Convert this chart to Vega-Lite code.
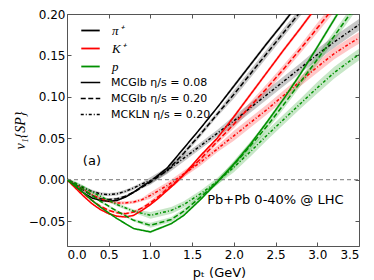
{
  "$schema": "https://vega.github.io/schema/vega-lite/v6.json",
  "width": 292,
  "height": 232,
  "autosize": {"type": "none"},
  "padding": {"left": 67, "top": 14, "right": 15, "bottom": 34},
  "config": {
    "view": {"stroke": "#555", "strokeWidth": 1},
    "font": "DejaVu Sans",
    "axis": {"grid": false, "domain": false, "labelColor": "#000", "tickColor": "#555", "labelFontSize": 12, "labelFont": "DejaVu Sans", "titleFontWeight": "normal", "titleColor": "#000"}
  },
  "datasets": {
    "curves": [
      {"s":"π⁺","m":"MCGlb η/s = 0.08","x":0,"y":0,"e":0.001},
      {"s":"π⁺","m":"MCGlb η/s = 0.08","x":0.1,"y":-0.008,"e":0.001},
      {"s":"π⁺","m":"MCGlb η/s = 0.08","x":0.2,"y":-0.016,"e":0.001},
      {"s":"π⁺","m":"MCGlb η/s = 0.08","x":0.3,"y":-0.022,"e":0.001},
      {"s":"π⁺","m":"MCGlb η/s = 0.08","x":0.4,"y":-0.025,"e":0.001},
      {"s":"π⁺","m":"MCGlb η/s = 0.08","x":0.5,"y":-0.026,"e":0.001},
      {"s":"π⁺","m":"MCGlb η/s = 0.08","x":0.6,"y":-0.025,"e":0.001},
      {"s":"π⁺","m":"MCGlb η/s = 0.08","x":0.7,"y":-0.021,"e":0.001},
      {"s":"π⁺","m":"MCGlb η/s = 0.08","x":0.8,"y":-0.015,"e":0.001},
      {"s":"π⁺","m":"MCGlb η/s = 0.08","x":0.9,"y":-0.008,"e":0.001},
      {"s":"π⁺","m":"MCGlb η/s = 0.08","x":1.0,"y":-0.002,"e":0.0015},
      {"s":"π⁺","m":"MCGlb η/s = 0.08","x":1.1,"y":0.006,"e":0.0015},
      {"s":"π⁺","m":"MCGlb η/s = 0.08","x":1.2,"y":0.014,"e":0.0015},
      {"s":"π⁺","m":"MCGlb η/s = 0.08","x":1.4,"y":0.038,"e":0.0015},
      {"s":"π⁺","m":"MCGlb η/s = 0.08","x":1.6,"y":0.062,"e":0.0015},
      {"s":"π⁺","m":"MCGlb η/s = 0.08","x":1.8,"y":0.087,"e":0.0015},
      {"s":"π⁺","m":"MCGlb η/s = 0.08","x":2.0,"y":0.113,"e":0.0025},
      {"s":"π⁺","m":"MCGlb η/s = 0.08","x":2.2,"y":0.139,"e":0.0025},
      {"s":"π⁺","m":"MCGlb η/s = 0.08","x":2.4,"y":0.165,"e":0.0025},
      {"s":"π⁺","m":"MCGlb η/s = 0.08","x":2.6,"y":0.19,"e":0.0025},
      {"s":"π⁺","m":"MCGlb η/s = 0.08","x":2.8,"y":0.216,"e":0.0025},

      {"s":"π⁺","m":"MCGlb η/s = 0.20","x":0,"y":0,"e":0.0015},
      {"s":"π⁺","m":"MCGlb η/s = 0.20","x":0.1,"y":-0.006,"e":0.0015},
      {"s":"π⁺","m":"MCGlb η/s = 0.20","x":0.2,"y":-0.013,"e":0.0015},
      {"s":"π⁺","m":"MCGlb η/s = 0.20","x":0.3,"y":-0.019,"e":0.0015},
      {"s":"π⁺","m":"MCGlb η/s = 0.20","x":0.4,"y":-0.023,"e":0.0015},
      {"s":"π⁺","m":"MCGlb η/s = 0.20","x":0.5,"y":-0.024,"e":0.0015},
      {"s":"π⁺","m":"MCGlb η/s = 0.20","x":0.6,"y":-0.023,"e":0.0015},
      {"s":"π⁺","m":"MCGlb η/s = 0.20","x":0.7,"y":-0.02,"e":0.0015},
      {"s":"π⁺","m":"MCGlb η/s = 0.20","x":0.8,"y":-0.015,"e":0.0015},
      {"s":"π⁺","m":"MCGlb η/s = 0.20","x":0.9,"y":-0.009,"e":0.0015},
      {"s":"π⁺","m":"MCGlb η/s = 0.20","x":1.0,"y":-0.003,"e":0.003},
      {"s":"π⁺","m":"MCGlb η/s = 0.20","x":1.1,"y":0.004,"e":0.003},
      {"s":"π⁺","m":"MCGlb η/s = 0.20","x":1.2,"y":0.011,"e":0.003},
      {"s":"π⁺","m":"MCGlb η/s = 0.20","x":1.4,"y":0.032,"e":0.003},
      {"s":"π⁺","m":"MCGlb η/s = 0.20","x":1.6,"y":0.055,"e":0.003},
      {"s":"π⁺","m":"MCGlb η/s = 0.20","x":1.8,"y":0.079,"e":0.003},
      {"s":"π⁺","m":"MCGlb η/s = 0.20","x":2.0,"y":0.103,"e":0.005},
      {"s":"π⁺","m":"MCGlb η/s = 0.20","x":2.2,"y":0.128,"e":0.005},
      {"s":"π⁺","m":"MCGlb η/s = 0.20","x":2.4,"y":0.153,"e":0.005},
      {"s":"π⁺","m":"MCGlb η/s = 0.20","x":2.6,"y":0.178,"e":0.005},
      {"s":"π⁺","m":"MCGlb η/s = 0.20","x":2.8,"y":0.203,"e":0.005},
      {"s":"π⁺","m":"MCGlb η/s = 0.20","x":3.0,"y":0.228,"e":0.006},

      {"s":"π⁺","m":"MCKLN η/s = 0.20","x":0,"y":0,"e":0.002},
      {"s":"π⁺","m":"MCKLN η/s = 0.20","x":0.1,"y":-0.005,"e":0.002},
      {"s":"π⁺","m":"MCKLN η/s = 0.20","x":0.2,"y":-0.01,"e":0.002},
      {"s":"π⁺","m":"MCKLN η/s = 0.20","x":0.3,"y":-0.014,"e":0.002},
      {"s":"π⁺","m":"MCKLN η/s = 0.20","x":0.4,"y":-0.017,"e":0.002},
      {"s":"π⁺","m":"MCKLN η/s = 0.20","x":0.5,"y":-0.018,"e":0.002},
      {"s":"π⁺","m":"MCKLN η/s = 0.20","x":0.6,"y":-0.017,"e":0.002},
      {"s":"π⁺","m":"MCKLN η/s = 0.20","x":0.7,"y":-0.014,"e":0.002},
      {"s":"π⁺","m":"MCKLN η/s = 0.20","x":0.8,"y":-0.01,"e":0.002},
      {"s":"π⁺","m":"MCKLN η/s = 0.20","x":0.9,"y":-0.005,"e":0.002},
      {"s":"π⁺","m":"MCKLN η/s = 0.20","x":1.0,"y":-0.001,"e":0.004},
      {"s":"π⁺","m":"MCKLN η/s = 0.20","x":1.1,"y":0.005,"e":0.004},
      {"s":"π⁺","m":"MCKLN η/s = 0.20","x":1.2,"y":0.011,"e":0.004},
      {"s":"π⁺","m":"MCKLN η/s = 0.20","x":1.4,"y":0.026,"e":0.004},
      {"s":"π⁺","m":"MCKLN η/s = 0.20","x":1.6,"y":0.041,"e":0.004},
      {"s":"π⁺","m":"MCKLN η/s = 0.20","x":1.8,"y":0.056,"e":0.004},
      {"s":"π⁺","m":"MCKLN η/s = 0.20","x":2.0,"y":0.071,"e":0.006},
      {"s":"π⁺","m":"MCKLN η/s = 0.20","x":2.2,"y":0.087,"e":0.006},
      {"s":"π⁺","m":"MCKLN η/s = 0.20","x":2.4,"y":0.103,"e":0.006},
      {"s":"π⁺","m":"MCKLN η/s = 0.20","x":2.6,"y":0.119,"e":0.006},
      {"s":"π⁺","m":"MCKLN η/s = 0.20","x":2.8,"y":0.135,"e":0.006},
      {"s":"π⁺","m":"MCKLN η/s = 0.20","x":3.0,"y":0.151,"e":0.007},
      {"s":"π⁺","m":"MCKLN η/s = 0.20","x":3.2,"y":0.166,"e":0.007},
      {"s":"π⁺","m":"MCKLN η/s = 0.20","x":3.4,"y":0.18,"e":0.007},
      {"s":"π⁺","m":"MCKLN η/s = 0.20","x":3.5,"y":0.187,"e":0.007},

      {"s":"K⁺","m":"MCGlb η/s = 0.08","x":0,"y":0,"e":0.001},
      {"s":"K⁺","m":"MCGlb η/s = 0.08","x":0.1,"y":-0.01,"e":0.001},
      {"s":"K⁺","m":"MCGlb η/s = 0.08","x":0.2,"y":-0.02,"e":0.001},
      {"s":"K⁺","m":"MCGlb η/s = 0.08","x":0.3,"y":-0.029,"e":0.001},
      {"s":"K⁺","m":"MCGlb η/s = 0.08","x":0.4,"y":-0.036,"e":0.001},
      {"s":"K⁺","m":"MCGlb η/s = 0.08","x":0.5,"y":-0.041,"e":0.001},
      {"s":"K⁺","m":"MCGlb η/s = 0.08","x":0.6,"y":-0.044,"e":0.001},
      {"s":"K⁺","m":"MCGlb η/s = 0.08","x":0.7,"y":-0.045,"e":0.001},
      {"s":"K⁺","m":"MCGlb η/s = 0.08","x":0.8,"y":-0.043,"e":0.001},
      {"s":"K⁺","m":"MCGlb η/s = 0.08","x":0.9,"y":-0.037,"e":0.001},
      {"s":"K⁺","m":"MCGlb η/s = 0.08","x":1.0,"y":-0.03,"e":0.0015},
      {"s":"K⁺","m":"MCGlb η/s = 0.08","x":1.1,"y":-0.022,"e":0.0015},
      {"s":"K⁺","m":"MCGlb η/s = 0.08","x":1.2,"y":-0.013,"e":0.0015},
      {"s":"K⁺","m":"MCGlb η/s = 0.08","x":1.3,"y":-0.004,"e":0.0015},
      {"s":"K⁺","m":"MCGlb η/s = 0.08","x":1.4,"y":0.006,"e":0.0015},
      {"s":"K⁺","m":"MCGlb η/s = 0.08","x":1.6,"y":0.029,"e":0.0015},
      {"s":"K⁺","m":"MCGlb η/s = 0.08","x":1.8,"y":0.05,"e":0.0015},
      {"s":"K⁺","m":"MCGlb η/s = 0.08","x":2.0,"y":0.076,"e":0.0025},
      {"s":"K⁺","m":"MCGlb η/s = 0.08","x":2.2,"y":0.103,"e":0.0025},
      {"s":"K⁺","m":"MCGlb η/s = 0.08","x":2.4,"y":0.13,"e":0.0025},
      {"s":"K⁺","m":"MCGlb η/s = 0.08","x":2.6,"y":0.157,"e":0.0025},
      {"s":"K⁺","m":"MCGlb η/s = 0.08","x":2.8,"y":0.183,"e":0.0025},
      {"s":"K⁺","m":"MCGlb η/s = 0.08","x":3.0,"y":0.21,"e":0.003},

      {"s":"K⁺","m":"MCGlb η/s = 0.20","x":0,"y":0,"e":0.0015},
      {"s":"K⁺","m":"MCGlb η/s = 0.20","x":0.1,"y":-0.008,"e":0.0015},
      {"s":"K⁺","m":"MCGlb η/s = 0.20","x":0.2,"y":-0.017,"e":0.0015},
      {"s":"K⁺","m":"MCGlb η/s = 0.20","x":0.3,"y":-0.025,"e":0.0015},
      {"s":"K⁺","m":"MCGlb η/s = 0.20","x":0.4,"y":-0.032,"e":0.0015},
      {"s":"K⁺","m":"MCGlb η/s = 0.20","x":0.5,"y":-0.037,"e":0.0015},
      {"s":"K⁺","m":"MCGlb η/s = 0.20","x":0.6,"y":-0.04,"e":0.0015},
      {"s":"K⁺","m":"MCGlb η/s = 0.20","x":0.7,"y":-0.041,"e":0.0015},
      {"s":"K⁺","m":"MCGlb η/s = 0.20","x":0.8,"y":-0.039,"e":0.0015},
      {"s":"K⁺","m":"MCGlb η/s = 0.20","x":0.9,"y":-0.034,"e":0.0015},
      {"s":"K⁺","m":"MCGlb η/s = 0.20","x":1.0,"y":-0.028,"e":0.003},
      {"s":"K⁺","m":"MCGlb η/s = 0.20","x":1.1,"y":-0.02,"e":0.003},
      {"s":"K⁺","m":"MCGlb η/s = 0.20","x":1.2,"y":-0.011,"e":0.003},
      {"s":"K⁺","m":"MCGlb η/s = 0.20","x":1.3,"y":-0.003,"e":0.003},
      {"s":"K⁺","m":"MCGlb η/s = 0.20","x":1.4,"y":0.006,"e":0.003},
      {"s":"K⁺","m":"MCGlb η/s = 0.20","x":1.6,"y":0.025,"e":0.003},
      {"s":"K⁺","m":"MCGlb η/s = 0.20","x":1.8,"y":0.046,"e":0.003},
      {"s":"K⁺","m":"MCGlb η/s = 0.20","x":2.0,"y":0.067,"e":0.005},
      {"s":"K⁺","m":"MCGlb η/s = 0.20","x":2.2,"y":0.089,"e":0.005},
      {"s":"K⁺","m":"MCGlb η/s = 0.20","x":2.4,"y":0.111,"e":0.005},
      {"s":"K⁺","m":"MCGlb η/s = 0.20","x":2.6,"y":0.134,"e":0.005},
      {"s":"K⁺","m":"MCGlb η/s = 0.20","x":2.8,"y":0.158,"e":0.005},
      {"s":"K⁺","m":"MCGlb η/s = 0.20","x":3.0,"y":0.183,"e":0.006},
      {"s":"K⁺","m":"MCGlb η/s = 0.20","x":3.2,"y":0.208,"e":0.006},

      {"s":"K⁺","m":"MCKLN η/s = 0.20","x":0,"y":0,"e":0.002},
      {"s":"K⁺","m":"MCKLN η/s = 0.20","x":0.1,"y":-0.006,"e":0.002},
      {"s":"K⁺","m":"MCKLN η/s = 0.20","x":0.2,"y":-0.012,"e":0.002},
      {"s":"K⁺","m":"MCKLN η/s = 0.20","x":0.3,"y":-0.018,"e":0.002},
      {"s":"K⁺","m":"MCKLN η/s = 0.20","x":0.4,"y":-0.023,"e":0.002},
      {"s":"K⁺","m":"MCKLN η/s = 0.20","x":0.5,"y":-0.026,"e":0.002},
      {"s":"K⁺","m":"MCKLN η/s = 0.20","x":0.6,"y":-0.028,"e":0.002},
      {"s":"K⁺","m":"MCKLN η/s = 0.20","x":0.7,"y":-0.028,"e":0.002},
      {"s":"K⁺","m":"MCKLN η/s = 0.20","x":0.8,"y":-0.027,"e":0.002},
      {"s":"K⁺","m":"MCKLN η/s = 0.20","x":0.9,"y":-0.024,"e":0.002},
      {"s":"K⁺","m":"MCKLN η/s = 0.20","x":1.0,"y":-0.019,"e":0.004},
      {"s":"K⁺","m":"MCKLN η/s = 0.20","x":1.1,"y":-0.013,"e":0.004},
      {"s":"K⁺","m":"MCKLN η/s = 0.20","x":1.2,"y":-0.007,"e":0.004},
      {"s":"K⁺","m":"MCKLN η/s = 0.20","x":1.3,"y":0.0,"e":0.004},
      {"s":"K⁺","m":"MCKLN η/s = 0.20","x":1.4,"y":0.007,"e":0.004},
      {"s":"K⁺","m":"MCKLN η/s = 0.20","x":1.6,"y":0.021,"e":0.004},
      {"s":"K⁺","m":"MCKLN η/s = 0.20","x":1.8,"y":0.037,"e":0.004},
      {"s":"K⁺","m":"MCKLN η/s = 0.20","x":2.0,"y":0.053,"e":0.006},
      {"s":"K⁺","m":"MCKLN η/s = 0.20","x":2.2,"y":0.069,"e":0.006},
      {"s":"K⁺","m":"MCKLN η/s = 0.20","x":2.4,"y":0.085,"e":0.006},
      {"s":"K⁺","m":"MCKLN η/s = 0.20","x":2.6,"y":0.102,"e":0.006},
      {"s":"K⁺","m":"MCKLN η/s = 0.20","x":2.8,"y":0.119,"e":0.006},
      {"s":"K⁺","m":"MCKLN η/s = 0.20","x":3.0,"y":0.136,"e":0.007},
      {"s":"K⁺","m":"MCKLN η/s = 0.20","x":3.2,"y":0.152,"e":0.007},
      {"s":"K⁺","m":"MCKLN η/s = 0.20","x":3.4,"y":0.165,"e":0.007},
      {"s":"K⁺","m":"MCKLN η/s = 0.20","x":3.5,"y":0.171,"e":0.007},

      {"s":"p","m":"MCGlb η/s = 0.08","x":0,"y":0,"e":0.001},
      {"s":"p","m":"MCGlb η/s = 0.08","x":0.1,"y":-0.008,"e":0.001},
      {"s":"p","m":"MCGlb η/s = 0.08","x":0.2,"y":-0.016,"e":0.001},
      {"s":"p","m":"MCGlb η/s = 0.08","x":0.3,"y":-0.025,"e":0.001},
      {"s":"p","m":"MCGlb η/s = 0.08","x":0.4,"y":-0.033,"e":0.001},
      {"s":"p","m":"MCGlb η/s = 0.08","x":0.5,"y":-0.04,"e":0.001},
      {"s":"p","m":"MCGlb η/s = 0.08","x":0.6,"y":-0.047,"e":0.001},
      {"s":"p","m":"MCGlb η/s = 0.08","x":0.8,"y":-0.059,"e":0.001},
      {"s":"p","m":"MCGlb η/s = 0.08","x":1.0,"y":-0.063,"e":0.0015},
      {"s":"p","m":"MCGlb η/s = 0.08","x":1.25,"y":-0.053,"e":0.0015},
      {"s":"p","m":"MCGlb η/s = 0.08","x":1.4,"y":-0.043,"e":0.0015},
      {"s":"p","m":"MCGlb η/s = 0.08","x":1.6,"y":-0.024,"e":0.0015},
      {"s":"p","m":"MCGlb η/s = 0.08","x":1.8,"y":-0.003,"e":0.0015},
      {"s":"p","m":"MCGlb η/s = 0.08","x":2.0,"y":0.019,"e":0.0025},
      {"s":"p","m":"MCGlb η/s = 0.08","x":2.2,"y":0.043,"e":0.0025},
      {"s":"p","m":"MCGlb η/s = 0.08","x":2.4,"y":0.07,"e":0.0025},
      {"s":"p","m":"MCGlb η/s = 0.08","x":2.6,"y":0.098,"e":0.0025},
      {"s":"p","m":"MCGlb η/s = 0.08","x":2.8,"y":0.128,"e":0.0025},
      {"s":"p","m":"MCGlb η/s = 0.08","x":3.0,"y":0.16,"e":0.003},
      {"s":"p","m":"MCGlb η/s = 0.08","x":3.2,"y":0.193,"e":0.003},
      {"s":"p","m":"MCGlb η/s = 0.08","x":3.4,"y":0.226,"e":0.003},

      {"s":"p","m":"MCGlb η/s = 0.20","x":0,"y":0,"e":0.0015},
      {"s":"p","m":"MCGlb η/s = 0.20","x":0.1,"y":-0.006,"e":0.0015},
      {"s":"p","m":"MCGlb η/s = 0.20","x":0.2,"y":-0.012,"e":0.0015},
      {"s":"p","m":"MCGlb η/s = 0.20","x":0.3,"y":-0.019,"e":0.0015},
      {"s":"p","m":"MCGlb η/s = 0.20","x":0.4,"y":-0.026,"e":0.0015},
      {"s":"p","m":"MCGlb η/s = 0.20","x":0.5,"y":-0.032,"e":0.0015},
      {"s":"p","m":"MCGlb η/s = 0.20","x":0.6,"y":-0.038,"e":0.0015},
      {"s":"p","m":"MCGlb η/s = 0.20","x":0.8,"y":-0.049,"e":0.0015},
      {"s":"p","m":"MCGlb η/s = 0.20","x":1.0,"y":-0.055,"e":0.003},
      {"s":"p","m":"MCGlb η/s = 0.20","x":1.25,"y":-0.048,"e":0.003},
      {"s":"p","m":"MCGlb η/s = 0.20","x":1.4,"y":-0.038,"e":0.003},
      {"s":"p","m":"MCGlb η/s = 0.20","x":1.6,"y":-0.021,"e":0.003},
      {"s":"p","m":"MCGlb η/s = 0.20","x":1.8,"y":-0.003,"e":0.003},
      {"s":"p","m":"MCGlb η/s = 0.20","x":2.0,"y":0.018,"e":0.005},
      {"s":"p","m":"MCGlb η/s = 0.20","x":2.2,"y":0.041,"e":0.005},
      {"s":"p","m":"MCGlb η/s = 0.20","x":2.4,"y":0.065,"e":0.005},
      {"s":"p","m":"MCGlb η/s = 0.20","x":2.6,"y":0.091,"e":0.005},
      {"s":"p","m":"MCGlb η/s = 0.20","x":2.8,"y":0.118,"e":0.005},
      {"s":"p","m":"MCGlb η/s = 0.20","x":3.0,"y":0.145,"e":0.006},
      {"s":"p","m":"MCGlb η/s = 0.20","x":3.2,"y":0.173,"e":0.006},
      {"s":"p","m":"MCGlb η/s = 0.20","x":3.4,"y":0.201,"e":0.006},
      {"s":"p","m":"MCGlb η/s = 0.20","x":3.5,"y":0.215,"e":0.006},

      {"s":"p","m":"MCKLN η/s = 0.20","x":0,"y":0,"e":0.002},
      {"s":"p","m":"MCKLN η/s = 0.20","x":0.1,"y":-0.004,"e":0.002},
      {"s":"p","m":"MCKLN η/s = 0.20","x":0.2,"y":-0.009,"e":0.002},
      {"s":"p","m":"MCKLN η/s = 0.20","x":0.3,"y":-0.015,"e":0.002},
      {"s":"p","m":"MCKLN η/s = 0.20","x":0.4,"y":-0.02,"e":0.002},
      {"s":"p","m":"MCKLN η/s = 0.20","x":0.5,"y":-0.025,"e":0.002},
      {"s":"p","m":"MCKLN η/s = 0.20","x":0.6,"y":-0.03,"e":0.002},
      {"s":"p","m":"MCKLN η/s = 0.20","x":0.8,"y":-0.038,"e":0.002},
      {"s":"p","m":"MCKLN η/s = 0.20","x":1.0,"y":-0.043,"e":0.004},
      {"s":"p","m":"MCKLN η/s = 0.20","x":1.25,"y":-0.037,"e":0.004},
      {"s":"p","m":"MCKLN η/s = 0.20","x":1.4,"y":-0.03,"e":0.004},
      {"s":"p","m":"MCKLN η/s = 0.20","x":1.6,"y":-0.017,"e":0.004},
      {"s":"p","m":"MCKLN η/s = 0.20","x":1.8,"y":-0.002,"e":0.004},
      {"s":"p","m":"MCKLN η/s = 0.20","x":2.0,"y":0.015,"e":0.006},
      {"s":"p","m":"MCKLN η/s = 0.20","x":2.2,"y":0.034,"e":0.006},
      {"s":"p","m":"MCKLN η/s = 0.20","x":2.4,"y":0.054,"e":0.006},
      {"s":"p","m":"MCKLN η/s = 0.20","x":2.6,"y":0.073,"e":0.006},
      {"s":"p","m":"MCKLN η/s = 0.20","x":2.8,"y":0.092,"e":0.006},
      {"s":"p","m":"MCKLN η/s = 0.20","x":3.0,"y":0.111,"e":0.007},
      {"s":"p","m":"MCKLN η/s = 0.20","x":3.2,"y":0.129,"e":0.007},
      {"s":"p","m":"MCKLN η/s = 0.20","x":3.4,"y":0.144,"e":0.007},
      {"s":"p","m":"MCKLN η/s = 0.20","x":3.5,"y":0.151,"e":0.007}
    ]
  },
  "layer": [
    {
      "data": {"name": "curves"},
      "layer": [
        {
          "mark": {"type": "errorband", "opacity": 0.22, "clip": true},
          "encoding": {
            "x": {"field": "x", "type": "quantitative", "scale": {"domain": [0, 3.5], "nice": false, "zero": false},
              "axis": {"values": [0, 0.5, 1, 1.5, 2, 2.5, 3, 3.5], "format": ".1f", "tickSize": -4, "labelPadding": 7, "title": "pₜ (GeV)", "titleFont": "DejaVu Sans", "titleFontSize": 13, "titleX": 152, "titleY": 30, "titleBaseline": "alphabetic"}},
            "y": {"field": "y", "type": "quantitative", "scale": {"domain": [-0.08, 0.2], "nice": false, "zero": false},
              "axis": {"values": [-0.05, 0, 0.05, 0.1, 0.15, 0.2], "format": ".2f", "tickSize": -4, "labelPadding": 6, "title": "v₁{SP}", "titleFont": "Liberation Serif", "titleFontStyle": "italic", "titleFontSize": 14, "titleX": -47, "titleY": 116, "titleAngle": -90, "titleBaseline": "middle"}},
            "yError": {"field": "e"},
            "color": {"field": "s", "type": "nominal", "scale": {"domain": ["π⁺", "K⁺", "p"], "range": ["#000000", "#ff0000", "#009000"]},
              "legend": {"orient": "none", "legendX": 13, "legendY": 6, "title": null, "symbolType": "stroke", "symbolSize": 340, "symbolStrokeWidth": 1.8, "symbolOpacity": 1, "labelFont": "Liberation Serif", "labelFontStyle": "italic", "labelFontSize": 13, "labelOffset": 11, "padding": 0, "rowPadding": 0}},
            "detail": {"field": "m"}
          }
        },
        {
          "mark": {"type": "line", "strokeWidth": 1.5, "clip": true},
          "encoding": {
            "x": {"field": "x", "type": "quantitative", "scale": {"domain": [0, 3.5], "nice": false, "zero": false},
              "axis": {"values": [0, 0.5, 1, 1.5, 2, 2.5, 3, 3.5], "format": ".1f", "tickSize": -4, "labelPadding": 7, "title": "pₜ (GeV)", "titleFont": "DejaVu Sans", "titleFontSize": 13, "titleX": 152, "titleY": 30, "titleBaseline": "alphabetic"}},
            "y": {"field": "y", "type": "quantitative", "scale": {"domain": [-0.08, 0.2], "nice": false, "zero": false},
              "axis": {"values": [-0.05, 0, 0.05, 0.1, 0.15, 0.2], "format": ".2f", "tickSize": -4, "labelPadding": 6, "title": "v₁{SP}", "titleFont": "Liberation Serif", "titleFontStyle": "italic", "titleFontSize": 14, "titleX": -47, "titleY": 116, "titleAngle": -90, "titleBaseline": "middle"}},
            "color": {"field": "s", "type": "nominal", "scale": {"domain": ["π⁺", "K⁺", "p"], "range": ["#000000", "#ff0000", "#009000"]},
              "legend": {"orient": "none", "legendX": 13, "legendY": 6, "title": null, "symbolType": "stroke", "symbolSize": 340, "symbolStrokeWidth": 1.8, "symbolOpacity": 1, "labelFont": "Liberation Serif", "labelFontStyle": "italic", "labelFontSize": 13, "labelOffset": 11, "padding": 0, "rowPadding": 0}},
            "strokeDash": {"field": "m", "type": "nominal", "scale": {"domain": ["MCGlb η/s = 0.08", "MCGlb η/s = 0.20", "MCKLN η/s = 0.20"], "range": [[1, 0], [5, 2.5], [3, 2, 1, 2]]},
              "legend": {"orient": "none", "legendX": 13, "legendY": 58, "title": null, "symbolType": "stroke", "symbolSize": 380, "symbolStrokeWidth": 1.5, "symbolStrokeColor": "#000", "symbolOpacity": 1, "labelFont": "DejaVu Sans", "labelFontSize": 11, "labelOffset": 10, "padding": 0, "rowPadding": 0}}
          }
        },
        {
          "data": {"values": [{"t": "(a)"}]},
          "mark": {"type": "text", "align": "left", "baseline": "middle", "fontSize": 13, "font": "DejaVu Sans", "color": "#000"},
          "encoding": {"x": {"datum": 0.19, "type": "quantitative"}, "y": {"datum": 0.0225, "type": "quantitative"}, "text": {"field": "t"}}
        },
        {
          "data": {"values": [{"t": "Pb+Pb 0-40% @ LHC"}]},
          "mark": {"type": "text", "align": "left", "baseline": "middle", "fontSize": 13, "font": "DejaVu Sans", "color": "#000"},
          "encoding": {"x": {"datum": 1.68, "type": "quantitative"}, "y": {"datum": -0.0245, "type": "quantitative"}, "text": {"field": "t"}}
        }
      ]
    },
    {
      "data": {"values": [{}]},
      "mark": {"type": "rule", "color": "#777", "strokeDash": [4, 3], "strokeWidth": 1},
      "encoding": {
        "x": {"datum": 0, "type": "quantitative", "scale": {"domain": [0, 3.5], "nice": false, "zero": false},
          "axis": {"orient": "top", "values": [0, 0.5, 1, 1.5, 2, 2.5, 3, 3.5], "labels": false, "tickSize": -4, "title": null}},
        "x2": {"datum": 3.5},
        "y": {"datum": 0, "type": "quantitative", "scale": {"domain": [-0.08, 0.2], "nice": false, "zero": false},
          "axis": {"orient": "right", "values": [-0.05, 0, 0.05, 0.1, 0.15, 0.2], "labels": false, "tickSize": -4, "title": null}}
      }
    }
  ],
  "resolve": {"scale": {"x": "independent", "y": "independent"}}
}
